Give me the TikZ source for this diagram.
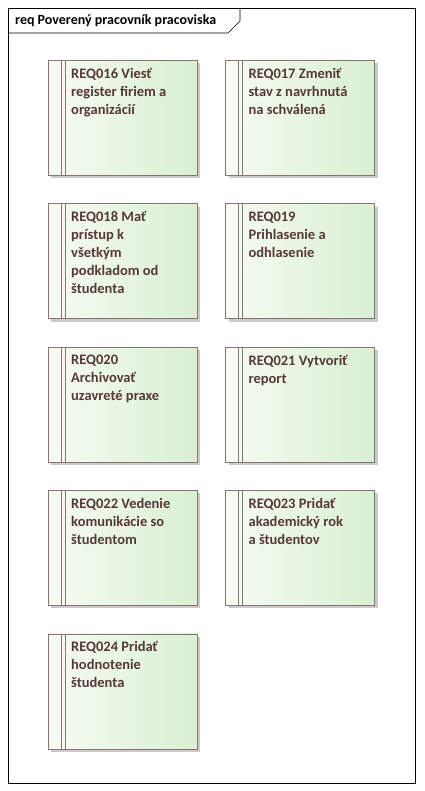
\documentclass[tikz,border=0pt]{standalone}
\usepackage{fontspec}
\setmainfont{Carlito}
\usepackage{xcolor}
\usepackage{tikz}
\usetikzlibrary{positioning,shadows}

\definecolor{reqline}{HTML}{8C7373}
\definecolor{reqtext}{HTML}{573838}
\definecolor{reqleft}{HTML}{F6FBF4}
\definecolor{reqright}{HTML}{D9F0D1}

\begin{document}
\begin{tikzpicture}[
        x=1pt, y=-1pt,
        font=\fontsize{14.5}{18}\selectfont,
        req/.style={
            draw=reqline, left color=reqleft, right color=reqright,
            minimum width=149pt, minimum height=115pt,
            drop shadow={shadow xshift=3pt, shadow yshift=-3pt, fill=black!35, opacity=0.6},
            path picture={
                \draw[reqline] ([xshift=13pt]path picture bounding box.north west) -- ([xshift=13pt]path picture bounding box.south west);
                \draw[reqline] ([xshift=17pt]path picture bounding box.north west) -- ([xshift=17pt]path picture bounding box.south west);
            }
        },
        reqlabel/.style={
            anchor=north west, align=left,
            inner sep=0pt, text=reqtext, font=\fontsize{14.5}{18}\selectfont\bfseries
        },
        node distance=28pt
    ]

    \useasboundingbox (0,0) rectangle (424,791);

    % Frame
    \draw[black, line width=0.6pt] (8,8) rectangle (415,783);
    \draw[black, line width=0.6pt] (8,33) -- (228,33) -- (240,21) -- (240,8);
    \node[anchor=west, inner sep=0pt, font=\fontsize{14}{18}\selectfont\bfseries] (title) at (15,20.5) {req Poverený pracovník pracoviska};

    % Requirement boxes
    \node[req, anchor=north west] (r16) at (48,60) {};
    \node[req, right=of r16] (r17) {};
    \node[req, below=of r16] (r18) {};
    \node[req, right=of r18] (r19) {};
    \node[req, below=of r18] (r20) {};
    \node[req, right=of r20] (r21) {};
    \node[req, below=of r20] (r22) {};
    \node[req, right=of r22] (r23) {};
    \node[req, below=of r22] (r24) {};

    % Labels
    \node[reqlabel] at ([xshift=23pt, yshift=-8pt]r16.north west) {REQ016 Viesť\\register firiem a\\organizácií};
    \node[reqlabel] at ([xshift=23pt, yshift=-8pt]r17.north west) {REQ017 Zmeniť\\stav z navrhnutá\\na schválená};
    \node[reqlabel] at ([xshift=23pt, yshift=-8pt]r18.north west) {REQ018 Mať\\prístup k\\všetkým\\podkladom od\\študenta};
    \node[reqlabel] at ([xshift=23pt, yshift=-8pt]r19.north west) {REQ019\\Prihlasenie a\\odhlasenie};
    \node[reqlabel] at ([xshift=23pt, yshift=-8pt]r20.north west) {REQ020\\Archivovať\\uzavreté praxe};
    \node[reqlabel] at ([xshift=23pt, yshift=-8pt]r21.north west) {REQ021 Vytvoriť\\report};
    \node[reqlabel] at ([xshift=23pt, yshift=-8pt]r22.north west) {REQ022 Vedenie\\komunikácie so\\študentom};
    \node[reqlabel] at ([xshift=23pt, yshift=-8pt]r23.north west) {REQ023 Pridať\\akademický rok\\a študentov};
    \node[reqlabel] at ([xshift=23pt, yshift=-8pt]r24.north west) {REQ024 Pridať\\hodnotenie\\študenta};

\end{tikzpicture}
\end{document}
